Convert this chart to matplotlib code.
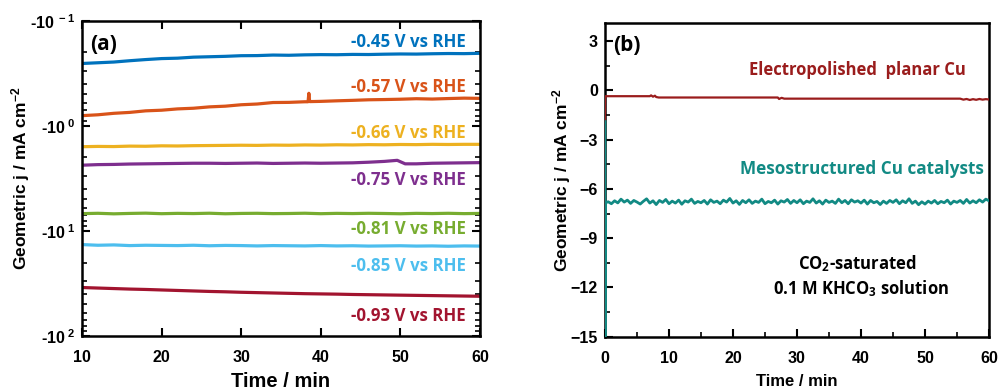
import matplotlib
matplotlib.use("Agg")
import matplotlib.pyplot as plt
from matplotlib.ticker import FixedLocator, FixedFormatter, LogLocator, MultipleLocator, NullFormatter

plt.rcParams['font.family'] = ['Liberation Sans', 'DejaVu Sans']
plt.rcParams['font.weight'] = 'bold'
plt.rcParams['mathtext.fontset'] = 'custom'
plt.rcParams['mathtext.rm'] = 'Liberation Sans:bold'
plt.rcParams['mathtext.bf'] = 'Liberation Sans:bold'
plt.rcParams['mathtext.it'] = 'Liberation Sans:bold'

# ---------------- panel (a): chronoamperometry, |j| on log scale ----------------
t_a = [10, 12, 14, 16, 18, 20, 22, 24, 26, 28, 30, 32, 34, 36, 38,
       40, 42, 44, 46, 48, 50, 52, 54, 56, 58, 60]

j_045 = [0.255, 0.251, 0.247, 0.240, 0.234, 0.229, 0.227, 0.222, 0.220, 0.218,
         0.215, 0.2145, 0.212, 0.213, 0.211, 0.210, 0.2105, 0.209, 0.2095, 0.208,
         0.207, 0.2075, 0.206, 0.205, 0.2055, 0.204]

t_057 = [10, 12, 14, 16, 18, 20, 22, 24, 26, 28, 30, 32, 34, 36, 38,
         38.4, 38.5, 38.6, 40, 42, 44, 46, 48, 50, 52, 54, 56, 58, 60]
j_057 = [0.80, 0.785, 0.76, 0.745, 0.72, 0.71, 0.69, 0.68, 0.66, 0.65,
         0.63, 0.62, 0.60, 0.598, 0.59, 0.59, 0.49, 0.588, 0.585, 0.578,
         0.572, 0.565, 0.562, 0.558, 0.552, 0.556, 0.55, 0.545, 0.548]

j_066 = [1.58, 1.57, 1.575, 1.56, 1.565, 1.55, 1.555, 1.545, 1.54, 1.535,
         1.53, 1.535, 1.525, 1.53, 1.52, 1.525, 1.515, 1.52, 1.51, 1.515,
         1.505, 1.51, 1.50, 1.505, 1.50, 1.50]

t_075 = [10, 12, 14, 16, 18, 20, 22, 24, 26, 28, 30, 32, 34, 36, 38,
         40, 42, 44, 46, 48, 49.6, 50.6, 52, 54, 56, 58, 60]
j_075 = [2.37, 2.34, 2.33, 2.31, 2.30, 2.29, 2.28, 2.27, 2.27, 2.28,
         2.27, 2.26, 2.28, 2.27, 2.26, 2.27, 2.26, 2.25, 2.22, 2.18,
         2.13, 2.30, 2.30, 2.27, 2.26, 2.25, 2.24]

j_081 = [6.85, 6.80, 6.88, 6.82, 6.78, 6.86, 6.81, 6.84, 6.79, 6.87,
         6.82, 6.80, 6.85, 6.83, 6.79, 6.86, 6.81, 6.84, 6.80, 6.83,
         6.87, 6.81, 6.84, 6.80, 6.85, 6.82]

j_085 = [13.5, 13.7, 13.6, 13.8, 13.7, 13.75, 13.8, 13.7, 13.85, 13.75,
         13.8, 13.9, 13.8, 13.85, 13.9, 13.8, 13.9, 13.85, 13.95, 13.9,
         13.85, 13.95, 13.9, 14.0, 13.9, 13.95]

j_093 = [34.6, 35.0, 35.4, 35.8, 36.1, 36.5, 36.9, 37.3, 37.7, 38.0,
         38.4, 38.7, 39.0, 39.3, 39.6, 39.8, 40.0, 40.3, 40.5, 40.7,
         40.9, 41.1, 41.3, 41.5, 41.7, 41.9]

series_a = [
    (t_a, j_045, '#0072BD', '-0.45 V vs RHE', 0.16),
    (t_057, j_057, '#D95319', '-0.57 V vs RHE', 0.43),
    (t_a, j_066, '#EDB120', '-0.66 V vs RHE', 1.17),
    (t_075, j_075, '#7E2F8E', '-0.75 V vs RHE', 3.3),
    (t_a, j_081, '#77AC30', '-0.81 V vs RHE', 9.6),
    (t_a, j_085, '#4DBEEE', '-0.85 V vs RHE', 21.7),
    (t_a, j_093, '#A2142F', '-0.93 V vs RHE', 65.0),
]

a_yticks = [0.1, 1, 10, 100]
a_yticklabels = ['-10$^{\\ -1}$', '-10$^{\\ 0}$', '-10$^{\\ 1}$', '-10$^{\\ 2}$']
a_xticks = [10, 20, 30, 40, 50, 60]

# ---------------- panel (b): planar vs mesostructured Cu ----------------
t_planar = [0, 0.02, 0.1, 7.0, 7.2, 7.5, 7.8, 8.0, 8.4, 27.0, 27.2, 27.6, 28.0,
            28.4, 55.5, 56.0, 56.5, 57.0, 57.5, 58.0, 58.5, 59.0, 59.5, 60.0]
j_planar = [-1.8, -0.35, -0.35, -0.35, -0.30, -0.38, -0.32, -0.40, -0.43,
            -0.43, -0.52, -0.45, -0.50, -0.50, -0.50, -0.56, -0.52, -0.58,
            -0.53, -0.57, -0.52, -0.56, -0.53, -0.55]

t_meso = [0, 0.01, 0.03,
          0.5, 1.0, 1.5, 2.0, 2.5, 3.0, 3.5, 4.0, 4.5, 5.0,
          5.5, 6.0, 6.5, 7.0, 7.5, 8.0, 8.5, 9.0, 9.5, 10.0,
          10.5, 11.0, 11.5, 12.0, 12.5, 13.0, 13.5, 14.0, 14.5, 15.0,
          15.5, 16.0, 16.5, 17.0, 17.5, 18.0, 18.5, 19.0, 19.5, 20.0,
          20.5, 21.0, 21.5, 22.0, 22.5, 23.0, 23.5, 24.0, 24.5, 25.0,
          25.5, 26.0, 26.5, 27.0, 27.5, 28.0, 28.5, 29.0, 29.5, 30.0,
          30.5, 31.0, 31.5, 32.0, 32.5, 33.0, 33.5, 34.0, 34.5, 35.0,
          35.5, 36.0, 36.5, 37.0, 37.5, 38.0, 38.5, 39.0, 39.5, 40.0,
          40.5, 41.0, 41.5, 42.0, 42.5, 43.0, 43.5, 44.0, 44.5, 45.0,
          45.5, 46.0, 46.5, 47.0, 47.5, 48.0, 48.5, 49.0, 49.5, 50.0,
          50.5, 51.0, 51.5, 52.0, 52.5, 53.0, 53.5, 54.0, 54.5, 55.0,
          55.5, 56.0, 56.5, 57.0, 57.5, 58.0, 58.5, 59.0, 59.5, 60.0]
j_meso = [-1.9, -15.0, -6.85,
          -6.78, -6.90, -6.72, -6.85, -6.62, -6.80, -6.68, -6.88, -6.70, -6.80,
          -6.92, -6.75, -6.60, -6.86, -6.72, -6.95, -6.70, -6.82, -6.64, -6.90,
          -6.74, -6.86, -6.68, -6.93, -6.72, -6.80, -6.62, -6.88, -6.76, -6.84,
          -6.70, -6.92, -6.66, -6.82, -6.74, -6.90, -6.68, -6.80, -6.58, -6.86,
          -6.72, -6.94, -6.70, -6.84, -6.66, -6.88, -6.74, -6.82, -6.62, -6.90,
          -6.76, -6.84, -6.68, -6.92, -6.72, -6.80, -6.64, -6.88, -6.70, -6.84,
          -6.66, -6.90, -6.74, -6.82, -6.60, -6.86, -6.72, -6.92, -6.68, -6.82,
          -6.74, -6.88, -6.62, -6.84, -6.70, -6.90, -6.66, -6.80, -6.72, -6.86,
          -6.68, -6.92, -6.70, -6.84, -6.76, -6.95, -6.74, -6.88, -6.70, -6.82,
          -6.66, -6.90, -6.72, -6.84, -6.60, -6.88, -6.74, -6.96, -6.78, -6.92,
          -6.74, -6.86, -6.70, -6.90, -6.76, -6.84, -6.68, -6.92, -6.74, -6.82,
          -6.70, -6.88, -6.64, -6.86, -6.72, -6.84, -6.66, -6.80, -6.62, -6.72]

b_yticks = [-15, -12, -9, -6, -3, 0, 3]
b_xticks = [0, 10, 20, 30, 40, 50, 60]

PLANAR_COLOR = '#9A1C1C'
MESO_COLOR = '#128A84'
NOTE_FONT = ['Open Sans', 'DejaVu Sans']

fig = plt.figure(figsize=(10, 3.92), dpi=100)

# ---- (a) ----
ax = fig.add_axes([0.082, 0.143, 0.398, 0.804])
for t, j, c, lab, ylab in series_a:
    ax.plot(t, j, color=c, lw=2.3, solid_joinstyle='round')
    ax.text(58.2, ylab, lab, color=c, fontsize=12.2, fontweight='bold',
            family=NOTE_FONT, ha='right', va='center')
ax.set_yscale('log')
ax.set_ylim(100, 0.1)
ax.set_xlim(10, 60)
ax.yaxis.set_major_locator(FixedLocator(a_yticks))
ax.yaxis.set_major_formatter(FixedFormatter(a_yticklabels))
ax.yaxis.set_minor_locator(LogLocator(base=10, subs=range(2, 10)))
ax.yaxis.set_minor_formatter(NullFormatter())
ax.xaxis.set_major_locator(FixedLocator(a_xticks))
ax.tick_params(axis='x', which='major', direction='in', length=6, width=1.5,
               labelsize=11.5, top=True, pad=10)
ax.tick_params(axis='y', which='major', direction='in', length=6, width=1.5,
               labelsize=11.5, right=True, pad=5)
ax.tick_params(axis='y', which='minor', direction='in', length=3.5, width=1.2,
               left=True, right=True)
for s in ax.spines.values():
    s.set_linewidth(1.8)
ax.set_xlabel('Time / min', fontsize=14.5, fontweight='bold', labelpad=5)
ax.set_ylabel('Geometric j / mA cm$^{-2}$', fontsize=12.5, fontweight='bold')
ax.yaxis.set_label_coords(-0.125, 0.5)
ax.text(0.02, 0.925, '(a)', transform=ax.transAxes, fontsize=15, fontweight='bold',
        family=NOTE_FONT, va='center', ha='left')

# ---- (b) ----
bx = fig.add_axes([0.605, 0.141, 0.384, 0.800])
bx.plot(t_planar, j_planar, color=PLANAR_COLOR, lw=1.6, zorder=3)
bx.plot(t_meso, j_meso, color=MESO_COLOR, lw=2.0, zorder=3)
bx.set_xlim(0, 60)
bx.set_ylim(-15, 4.1)
bx.yaxis.set_major_locator(FixedLocator(b_yticks))
bx.yaxis.set_minor_locator(MultipleLocator(1.5))
bx.xaxis.set_major_locator(FixedLocator(b_xticks))
bx.xaxis.set_minor_locator(MultipleLocator(5))
bx.tick_params(axis='x', which='major', direction='in', length=6, width=1.5,
               labelsize=11.5, pad=10)
bx.tick_params(axis='y', which='major', direction='in', length=6, width=1.5,
               labelsize=11.5, pad=5)
bx.tick_params(axis='both', which='minor', direction='in', length=3.5, width=1.2)
for s in bx.spines.values():
    s.set_linewidth(1.8)
bx.set_xlabel('Time / min', fontsize=12, fontweight='bold', labelpad=6)
bx.set_ylabel('Geometric j / mA cm$^{-2}$', fontsize=12.5, fontweight='bold')
bx.yaxis.set_label_coords(-0.083, 0.5)
bx.text(0.02, 0.93, '(b)', transform=bx.transAxes, fontsize=15, fontweight='bold',
        family=NOTE_FONT, va='center', ha='left')
bx.text(39.4, 1.22, 'Electropolished  planar Cu', color=PLANAR_COLOR, fontsize=12,
        fontweight='bold', family=NOTE_FONT, ha='center', va='center')
bx.text(40.2, -4.76, 'Mesostructured Cu catalysts', color=MESO_COLOR, fontsize=12.3,
        fontweight='bold', family=NOTE_FONT, ha='center', va='center')
bx.text(39.5, -10.55, 'CO$_\\mathregular{2}$-saturated', color='black', fontsize=12,
        fontweight='bold', family=NOTE_FONT, ha='center', va='center')
bx.text(40.0, -12.07, '0.1 M KHCO$_\\mathregular{3}$ solution', color='black', fontsize=12,
        fontweight='bold', family=NOTE_FONT, ha='center', va='center')

fig.savefig('out.png', dpi=100)
